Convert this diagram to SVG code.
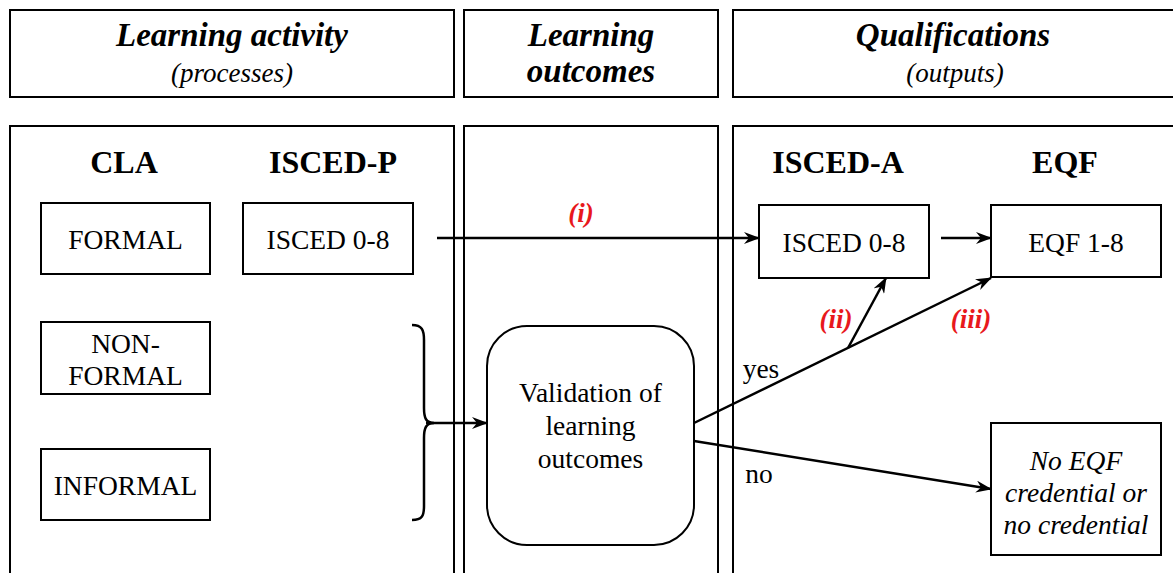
<svg xmlns="http://www.w3.org/2000/svg" width="1173" height="573" viewBox="0 0 1173 573">
<defs>
<style>
.box{fill:#fff;stroke:#000;stroke-width:2}
.t{font-family:"Liberation Serif",serif;fill:#000;text-anchor:middle}
.n{font-size:27.5px}
.h{font-size:32px;font-weight:bold}
.hd{font-size:33px;font-weight:bold;font-style:italic}
.sub{font-size:27px;font-style:italic}
.red{fill:#e8181c;font-weight:bold;font-style:italic;font-size:27px}
.c{fill:none;stroke:#000;stroke-width:2.5}
</style>
<marker id="ah" markerWidth="16" markerHeight="12" refX="15" refY="6" orient="auto" markerUnits="userSpaceOnUse">
<path d="M0,0 L16,6 L0,12 L5,6 z" fill="#000"/>
</marker>
</defs>
<rect width="1173" height="573" fill="#fff"/>
<g id="header-activity">
<rect class="box" x="10" y="10" width="444" height="87"/>
<text class="t hd" x="232" y="46">Learning activity</text>
<text class="t sub" x="232" y="82">(processes)</text>
</g>
<g id="header-outcomes">
<rect class="box" x="464" y="10" width="254" height="87"/>
<text class="t hd" x="591" y="46">Learning</text>
<text class="t hd" x="591" y="82">outcomes</text>
</g>
<g id="header-qualifications">
<rect class="box" x="733" y="10" width="450" height="87"/>
<text class="t hd" x="953" y="46">Qualifications</text>
<text class="t sub" x="955" y="82">(outputs)</text>
</g>
<g id="panel-activity">
<rect class="box" x="10" y="126" width="444" height="460"/>
<text class="t h" x="124" y="173">CLA</text>
<text class="t h" x="333" y="173">ISCED-P</text>
</g>
<g id="panel-outcomes">
<rect class="box" x="464" y="126" width="254" height="460"/>
</g>
<g id="panel-qualifications">
<rect class="box" x="733" y="126" width="450" height="460"/>
<text class="t h" x="838" y="173">ISCED-A</text>
<text class="t h" x="1065" y="173">EQF</text>
</g>
<g id="formal">
<rect class="box" x="41" y="203" width="169" height="71"/>
<text class="t n" x="125.5" y="249">FORMAL</text>
</g>
<g id="isced-p">
<rect class="box" x="243" y="203" width="170" height="71"/>
<text class="t n" x="328" y="249">ISCED 0-8</text>
</g>
<g id="nonformal">
<rect class="box" x="41" y="322" width="169" height="72"/>
<text class="t n" x="125.5" y="353">NON-</text>
<text class="t n" x="125.5" y="385">FORMAL</text>
</g>
<g id="informal">
<rect class="box" x="41" y="449" width="169" height="71"/>
<text class="t n" x="125.5" y="495">INFORMAL</text>
</g>
<g id="validation">
<rect class="box" x="487" y="326" width="207" height="219" rx="40" ry="40"/>
<text class="t n" x="590.5" y="402">Validation of</text>
<text class="t n" x="590.5" y="435">learning</text>
<text class="t n" x="590.5" y="468">outcomes</text>
</g>
<g id="isced-a">
<rect class="box" x="759" y="205" width="170" height="73"/>
<text class="t n" x="844" y="252">ISCED 0-8</text>
</g>
<g id="eqf">
<rect class="box" x="991" y="205" width="170" height="72"/>
<text class="t n" x="1076" y="252">EQF 1-8</text>
</g>
<g id="no-eqf">
<rect class="box" x="991" y="423" width="170" height="132"/>
<text class="t n" x="1076" y="470" font-style="italic">No EQF</text>
<text class="t n" x="1076" y="502" font-style="italic">credential or</text>
<text class="t n" x="1076" y="534" font-style="italic">no credential</text>
</g>
<g id="connectors">
<path class="c" d="M437,238 L759,238" marker-end="url(#ah)"/>
<path class="c" d="M941,238 L991,238" marker-end="url(#ah)"/>
<path class="c" d="M412,325 C422,325 424,330 424,340 L424,408 C424,418 426,423 434,423 C426,423 424,428 424,438 L424,506 C424,516 422,520 412,520" stroke-width="2"/>
<path class="c" d="M426,423 L487,423" marker-end="url(#ah)"/>
<path class="c" d="M694,423 L991,278" marker-end="url(#ah)"/>
<path class="c" d="M848,348 L886,278" marker-end="url(#ah)"/>
<path class="c" d="M694,441 L991,489" marker-end="url(#ah)"/>
<text class="t red" x="581" y="222">(i)</text>
<text class="t red" x="836" y="328">(ii)</text>
<text class="t red" x="971" y="328">(iii)</text>
<text class="t n" x="761" y="378">yes</text>
<text class="t n" x="759" y="483">no</text>
</g>
</svg>
